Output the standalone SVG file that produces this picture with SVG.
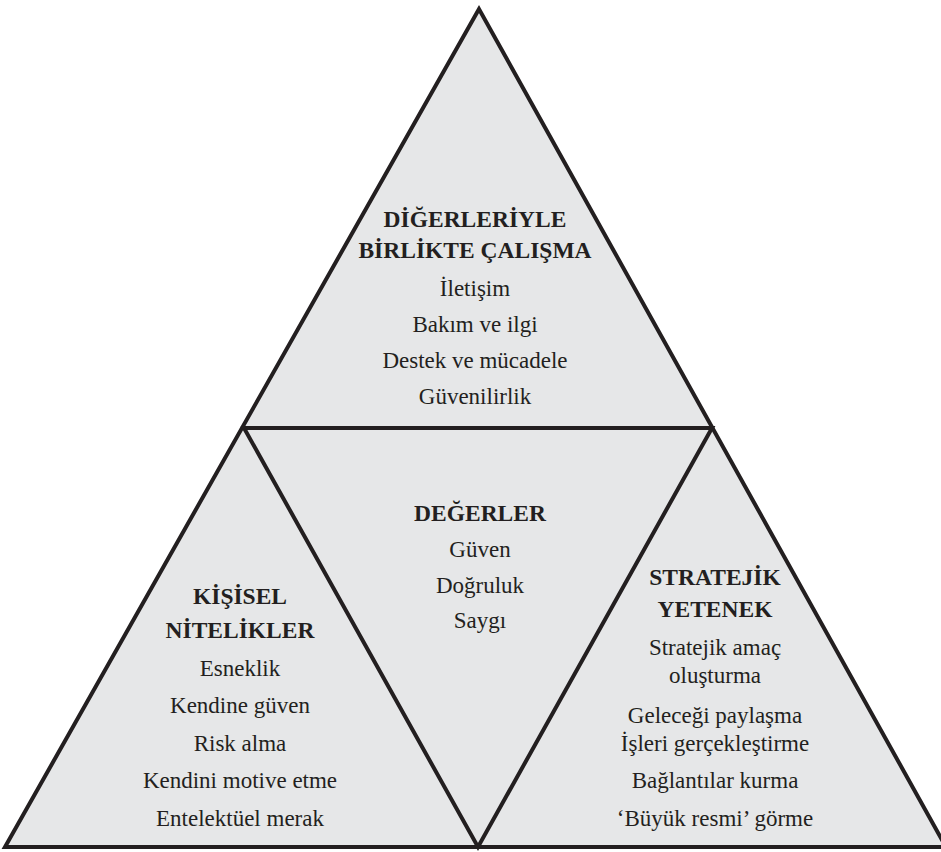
<svg xmlns="http://www.w3.org/2000/svg" width="941" height="852" viewBox="0 0 941 852">
<style>
.tri{fill:#e6e7e8;stroke:#231f20;stroke-width:4;stroke-linejoin:miter}
.t{font-family:"Liberation Serif","Times New Roman",serif;fill:#231f20;text-anchor:middle}
.h{font-size:23.5px;font-weight:bold}
.i{font-size:23px}
</style>
<rect width="941" height="852" fill="#ffffff"/>
<g id="connectors">
<polygon class="tri" points="479,9 5,847 946,847"/>
<polygon class="tri" points="244,428 712,428 478,847"/>
</g>
<g id="top" class="t">
<text class="h" x="475" y="227">DİĞERLERİYLE</text>
<text class="h" x="475" y="258">BİRLİKTE ÇALIŞMA</text>
<text class="i" x="475" y="296">İletişim</text>
<text class="i" x="475" y="332">Bakım ve ilgi</text>
<text class="i" x="475" y="368">Destek ve mücadele</text>
<text class="i" x="475" y="404">Güvenilirlik</text>
</g>
<g id="center" class="t">
<text class="h" x="480" y="521">DEĞERLER</text>
<text class="i" x="480" y="557">Güven</text>
<text class="i" x="480" y="593">Doğruluk</text>
<text class="i" x="480" y="628">Saygı</text>
</g>
<g id="left" class="t">
<text class="h" x="240" y="604">KİŞİSEL</text>
<text class="h" x="240" y="638">NİTELİKLER</text>
<text class="i" x="240" y="676">Esneklik</text>
<text class="i" x="240" y="713">Kendine güven</text>
<text class="i" x="240" y="751">Risk alma</text>
<text class="i" x="240" y="788">Kendini motive etme</text>
<text class="i" x="240" y="826">Entelektüel merak</text>
</g>
<g id="right" class="t">
<text class="h" x="715" y="585">STRATEJİK</text>
<text class="h" x="715" y="617">YETENEK</text>
<text class="i" x="715" y="655">Stratejik amaç</text>
<text class="i" x="715" y="683">oluşturma</text>
<text class="i" x="715" y="723">Geleceği paylaşma</text>
<text class="i" x="715" y="751">İşleri gerçekleştirme</text>
<text class="i" x="715" y="788">Bağlantılar kurma</text>
<text class="i" x="715" y="826">‘Büyük resmi’ görme</text>
</g>
</svg>
